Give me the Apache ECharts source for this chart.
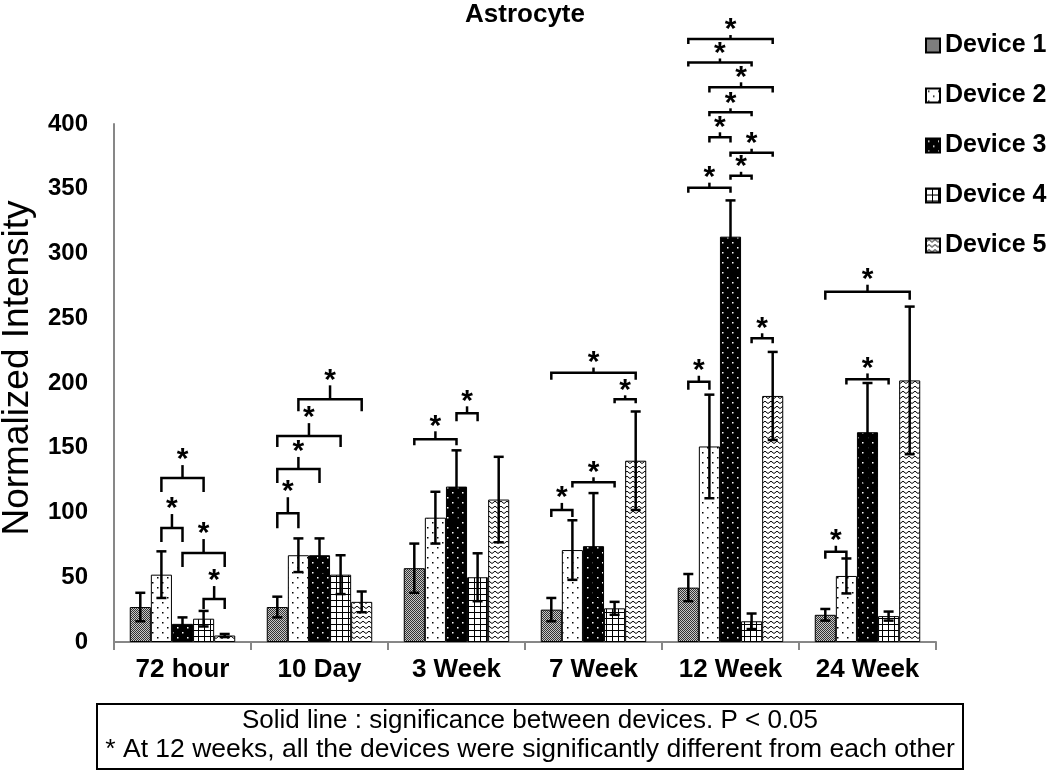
<!DOCTYPE html>
<html><head><meta charset="utf-8">
<script src="https://cdn.jsdelivr.net/npm/echarts@6/dist/echarts.min.js"></script>
<style>html,body{margin:0;padding:0;background:#fff}#c{width:1050px;height:771px}</style>
</head><body><div id="c"></div>
<script>
// ---------- data ----------
const categories = ['72 hour', '10 Day', '3 Week', '7 Week', '12 Week', '24 Week'];
const deviceNames = ['Device 1', 'Device 2', 'Device 3', 'Device 4', 'Device 5'];
const device1 = [27, 27, 57, 25, 42, 21];
const device2 = [52, 67, 96, 71, 151, 51];
const device3 = [14, 67, 120, 74, 313, 162];
const device4 = [18, 52, 50, 26, 16, 20];
const device5 = [5, 31, 110, 140, 190, 202];
const error1 = [11, 8, 19, 9, 10.5, 4.5];
const error2 = [18, 13, 20, 23, 40, 13.5];
const error3 = [5, 13, 28, 41, 28, 38];
const error4 = [6, 15, 18.5, 5, 6, 3.5];
const error5 = [1.2, 8, 33, 38, 34, 57];
const yMin = 0, yMax = 400, yStep = 50;
// significance brackets: [category, device A, device B, level, leg drop, stem rise]
const brackets = [
  [0, 1, 3, 126.6, 10.8, 10], [0, 1, 2, 88, 10.8, 10.8], [0, 2, 4, 68.7, 10.8, 10.8], [0, 3, 4, 33.2, 7.7, 10],
  [1, 0, 1, 99.4, 11.6, 12.4], [1, 0, 2, 133.6, 10.8, 9.3], [1, 0, 3, 159, 8.5, 10], [1, 1, 4, 187.4, 9.3, 10.8],
  [2, 0, 2, 156.5, 4.6, 6.2], [2, 2, 3, 176.6, 6.2, 5.4],
  [3, 0, 1, 102, 5.4, 5.4], [3, 1, 3, 123.3, 3.9, 3.9], [3, 3, 4, 187.4, 3.1, 3.1], [3, 0, 4, 208, 5.4, 3.9],
  [4, 0, 1, 201, 6.2, 4.6], [4, 3, 4, 234.5, 3.9, 3.9], [4, 0, 2, 350.8, 3.9, 3.9], [4, 2, 3, 360, 3.1, 3.1],
  [4, 2, 4, 377.8, 3.1, 3.1], [4, 1, 2, 389.7, 3.9, 3.9], [4, 1, 3, 409, 3.1, 3.1], [4, 1, 4, 428.3, 3.9, 3.9],
  [4, 0, 3, 447.5, 3.1, 3.1], [4, 0, 4, 465.6, 3.9, 3.1],
  [5, 0, 1, 69.7, 5.4, 4.6], [5, 1, 3, 202.8, 3.9, 4.6], [5, 0, 4, 270.5, 6.2, 5.4]
];
const noteLines = [
  'Solid line : significance between devices. P < 0.05',
  '* At 12 weeks, all the devices were significantly different from each other'
];

const deviceValues = [device1, device2, device3, device4, device5];
const deviceErrors = [error1, error2, error3, error4, error5];

// ---------- patterns ----------
function makePattern(kind) {
  const c = document.createElement('canvas');
  let ctx;
  if (kind === 0) {
    c.width = 2; c.height = 2; ctx = c.getContext('2d');
    ctx.fillStyle = '#c8c8c8'; ctx.fillRect(0, 0, 2, 2);
    ctx.fillStyle = '#333'; ctx.fillRect(0, 0, 1, 1); ctx.fillRect(1, 1, 1, 1);
  } else if (kind === 1 || kind === 2) {
    c.width = 10; c.height = 10; ctx = c.getContext('2d');
    ctx.fillStyle = kind === 1 ? '#fff' : '#000'; ctx.fillRect(0, 0, 10, 10);
    ctx.fillStyle = kind === 1 ? '#000' : '#fff';
    ctx.fillRect(2, 2, 1.5, 1.5); ctx.fillRect(7, 7, 1.5, 1.5);
  } else if (kind === 3) {
    c.width = 6; c.height = 6; ctx = c.getContext('2d');
    ctx.fillStyle = '#fff'; ctx.fillRect(0, 0, 6, 6);
    ctx.fillStyle = '#000'; ctx.fillRect(0, 0, 1, 6); ctx.fillRect(0, 0, 6, 1);
  } else {
    c.width = 6; c.height = 5; ctx = c.getContext('2d');
    ctx.fillStyle = '#fff'; ctx.fillRect(0, 0, 6, 5);
    ctx.strokeStyle = '#000'; ctx.lineWidth = 1;
    ctx.beginPath(); ctx.moveTo(-1, 3.8); ctx.lineTo(0, 3.5); ctx.lineTo(3, 1.2); ctx.lineTo(6, 3.5); ctx.lineTo(7, 3.8); ctx.stroke();
  }
  return { image: c, repeat: 'repeat' };
}
const patterns = [0, 1, 2, 3, 4].map(makePattern);

const FONT = "'Liberation Sans', Arial, Helvetica, sans-serif";
const CAT_GAP = 0.23;
const NDEV = deviceNames.length;

function barX(api, c, d) {
  const band = api.size([1, 0])[0];
  const groupW = band * (1 - CAT_GAP);
  const bw = groupW / NDEV;
  return api.coord([c, 0])[0] - groupW / 2 + bw * (d + 0.5);
}

const errorData = [];
categories.forEach((_, c) => {
  for (let d = 0; d < NDEV; d++) errorData.push([c, d, deviceValues[d][c], deviceErrors[d][c]]);
});

const chart = echarts.init(document.getElementById('c'), null, { renderer: 'canvas' });
chart.setOption({
  animation: false,
  backgroundColor: '#fff',
  textStyle: { fontFamily: FONT },
  title: {
    text: 'Astrocyte', left: 'center', top: 2, padding: 0,
    textStyle: { fontSize: 26, fontWeight: 'bold', color: '#000', fontFamily: FONT }
  },
  legend: {
    orient: 'vertical', left: 925, top: 33, itemWidth: 14, itemHeight: 14, itemGap: 25,
    icon: 'rect', padding: 0,
    textStyle: { fontSize: 25, fontWeight: 'bold', color: '#000', fontFamily: FONT },
    data: deviceNames
  },
  grid: { left: 114, right: 114, top: 124, bottom: 129, containLabel: false, outerBoundsMode: 'none' },
  xAxis: {
    type: 'category', data: categories,
    axisLine: { lineStyle: { color: '#878787', width: 2 } },
    axisTick: { show: true, length: 8, lineStyle: { color: '#878787', width: 2 } },
    axisLabel: { margin: 15, fontSize: 26, fontWeight: 'bold', color: '#000', fontFamily: FONT },
    splitLine: { show: false }
  },
  yAxis: {
    type: 'value', min: yMin, max: yMax, interval: yStep,
    name: 'Normalized Intensity', nameLocation: 'middle', nameGap: 78,
    nameTextStyle: { fontSize: 37, color: '#000', fontFamily: FONT, padding: [0, 0, 0, 30] },
    axisLine: { show: true, lineStyle: { color: '#878787', width: 2 } },
    axisTick: { show: false },
    axisLabel: { margin: 26, fontSize: 24, fontWeight: 'bold', color: '#000', fontFamily: FONT },
    splitLine: { show: false }
  },
  graphic: [
    { type: 'rect', shape: { x: 97, y: 704, width: 866, height: 65 },
      style: { fill: '#fff', stroke: '#000', lineWidth: 2 } },
    { type: 'text', x: 530, y: 721,
      style: { text: noteLines[0], font: '26px ' + FONT, fill: '#000', align: 'center', verticalAlign: 'middle' } },
    { type: 'text', x: 530, y: 750,
      style: { text: noteLines[1], font: '26.5px ' + FONT, fill: '#000', align: 'center', verticalAlign: 'middle' } }
  ],
  series: deviceNames.map((n, i) => ({
    type: 'bar', name: n, data: deviceValues[i],
    barGap: '0%', barCategoryGap: (CAT_GAP * 100) + '%',
    itemStyle: { color: patterns[i], borderColor: '#000', borderWidth: 1 },
    emphasis: { disabled: true }, z: 2
  })).concat([
    {
      type: 'custom', name: 'error', z: 5, silent: true,
      data: errorData, encode: { x: 0, y: 2 },
      renderItem: function (params, api) {
        const c = api.value(0), d = api.value(1), v = api.value(2), e = api.value(3);
        const x = barX(api, c, d);
        const yt = api.coord([c, v + e])[1];
        const yb = api.coord([c, Math.max(v - e, 0)])[1];
        const st = { stroke: '#000', lineWidth: 2.5 };
        return { type: 'group', children: [
          { type: 'line', shape: { x1: x, y1: yt, x2: x, y2: yb }, style: st },
          { type: 'line', shape: { x1: x - 5, y1: yt, x2: x + 5, y2: yt }, style: st },
          { type: 'line', shape: { x1: x - 5, y1: yb, x2: x + 5, y2: yb }, style: st }
        ] };
      }
    },
    {
      type: 'custom', name: 'significance', z: 6, silent: true, clip: false,
      data: brackets, encode: { x: 0, y: 3 },
      renderItem: function (params, api) {
        const c = api.value(0), a = api.value(1), b = api.value(2);
        const lv = api.value(3), leg = api.value(4), stem = api.value(5);
        const xa = barX(api, c, a), xb = barX(api, c, b);
        const y = api.coord([c, lv])[1];
        const yl = api.coord([c, lv - leg])[1];
        const ys = api.coord([c, lv + stem])[1];
        const xm = (xa + xb) / 2;
        const st = { stroke: '#000', lineWidth: 2.5, fill: null, lineJoin: 'miter' };
        return { type: 'group', children: [
          { type: 'polyline', shape: { points: [[xa, yl], [xa, y], [xb, y], [xb, yl]] }, style: st },
          { type: 'line', shape: { x1: xm, y1: y, x2: xm, y2: ys }, style: st },
          { type: 'text', x: xm, y: ys - 5,
            style: { text: '*', font: 'bold 30px ' + FONT, fill: '#000', align: 'center', verticalAlign: 'middle' } }
        ] };
      }
    }
  ])
});
</script></body></html>
